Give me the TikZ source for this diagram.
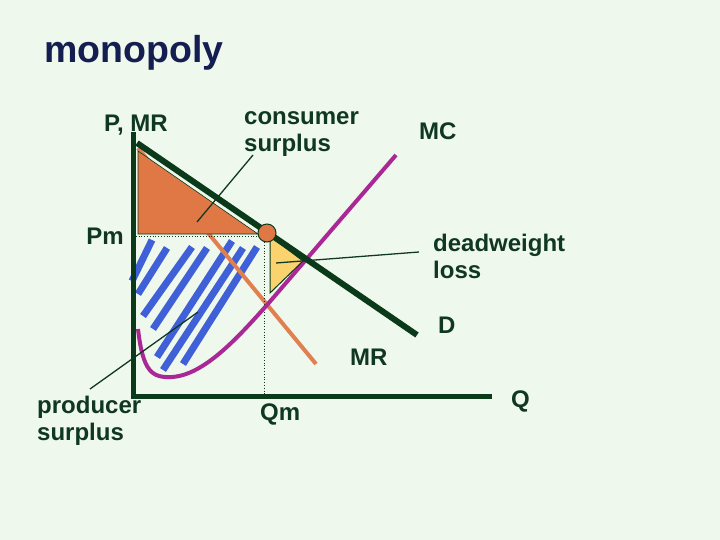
\documentclass[tikz,border=0pt]{standalone}
\usepackage{fontspec}
\setmainfont{Liberation Sans}
\definecolor{bgmint}{RGB}{238,248,236}
\definecolor{axisgreen}{RGB}{10,58,26}
\definecolor{labelgreen}{RGB}{16,56,32}
\definecolor{titlenavy}{RGB}{20,30,80}
\definecolor{mcpurple}{RGB}{170,40,150}
\definecolor{mrorange}{RGB}{224,128,80}
\definecolor{csorange}{RGB}{224,120,70}
\definecolor{dwlyellow}{RGB}{250,210,110}
\definecolor{psblue}{RGB}{64,96,216}
\tikzset{
  lbl/.style={text=labelgreen, font=\bfseries\fontsize{24}{27}\selectfont, inner sep=0pt, anchor=base west, align=left},
  leader/.style={draw=labelgreen, line width=1.3pt},
  guide/.style={draw=labelgreen, dotted, line width=0.8pt},
  stripe/.style={draw=psblue, line width=7pt}
}
\begin{document}
\begin{tikzpicture}[x=1pt,y=-1pt]
            \fill[bgmint] (0,0) rectangle (720,540);
            \useasboundingbox (0,0) rectangle (720,540);

            \node[text=titlenavy, font=\bfseries\fontsize{37.5}{40}\selectfont, inner sep=0pt, anchor=base west] (title) at (44,63) {monopoly};

            \coordinate (O) at (133,396);
            \coordinate (Ptop) at (133,132);
            \coordinate (Qend) at (492,396);
            \coordinate (Dtop) at (137,143);
            \coordinate (Dend) at (417,335);
            \coordinate (MRtop) at (138,148);
            \coordinate (MRend) at (316,364);
            \coordinate (Pmax) at (133,236);
            \coordinate (Em) at (264,236);
            \coordinate (Qm) at (264,396);

            % producer surplus stripes
            \foreach \xa/\ya/\xb/\yb in {152/240/132/281, 167/248/138/294, 192/247/143/316, 207/248/153/329,
                                         232/241/157/357, 243/248/163/370, 257/247/183/364}
              \draw[stripe] (\xa,\ya) -- (\xb,\yb);

            \draw[mrorange, line width=4pt] (MRtop) -- (MRend);

            % consumer surplus
            \filldraw[fill=csorange, draw=axisgreen, line width=0.6pt] (138,151) -- (138,234) -- (258,234) -- cycle;

            \path[guide] (Pmax) -- (Em) -- (Qm);

            \draw[mcpurple, line width=4pt] (138,329) .. controls (143,372) and (152,378) .. (172,377)
                  .. controls (205,375) and (240,335) .. (267,305) -- (396,155);

            % deadweight loss
            \filldraw[fill=dwlyellow, draw=axisgreen, line width=1pt] (270,236) -- (270,293) -- (303,261) -- cycle;

            \draw[axisgreen, line width=6pt] (Dtop) -- (Dend);
            \filldraw[fill=csorange, draw=axisgreen, line width=1pt] (267,233) circle (9);

            \draw[axisgreen, line width=5pt] (Ptop) -- (O) -- (Qend);

            \node[lbl] (pmr) at (104,132) {P, MR};
            \node[lbl] (cs) at (244,152) {consumer\\surplus};
            \node[lbl] (mc) at (419,140) {MC};
            \node[lbl, anchor=base east] (pm) at (124,244) {Pm};
            \node[lbl] (dwl) at (433,278) {deadweight\\loss};
            \node[lbl] (d) at (438,333) {D};
            \node[lbl] (mr) at (350,365) {MR};
            \node[lbl] (ps) at (37,440) {producer\\surplus};
            \node[lbl] (qm) at (260,420) {Qm};
            \node[lbl] (q) at (511,407) {Q};

            \coordinate (csfrom) at (253,155);
            \coordinate (csto) at (197,222);
            \coordinate (dwlfrom) at (419,252);
            \coordinate (dwlto) at (276,263);
            \coordinate (psfrom) at (90,389);
            \coordinate (psto) at (198,312);

            \path[leader] (csfrom) edge (csto);
            \path[leader] (dwlfrom) edge (dwlto);
            \path[leader] (psfrom) edge (psto);
        \end{tikzpicture}
\end{document}
